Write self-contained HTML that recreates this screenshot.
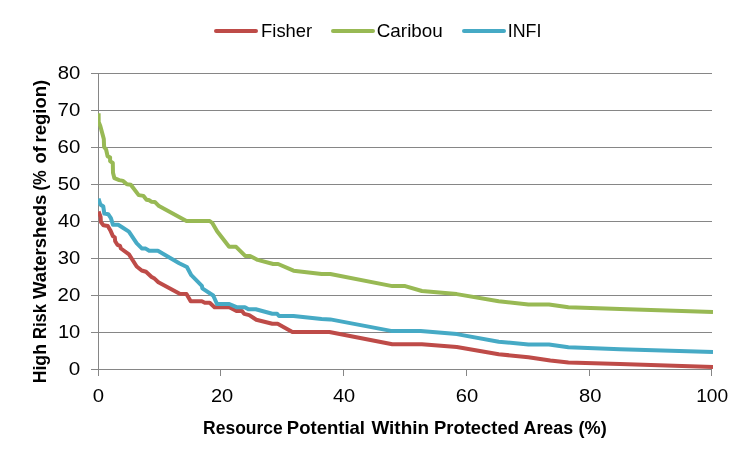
<!DOCTYPE html>
<html><head><meta charset="utf-8"><title>Chart</title>
<style>
html,body{margin:0;padding:0;background:#fff;}
svg{display:block;font-family:"Liberation Sans",sans-serif;}
</style></head><body>
<svg width="751" height="465" viewBox="0 0 751 465">
<rect width="751" height="465" fill="#fff"/>
<g stroke="#868686" stroke-width="1" shape-rendering="crispEdges">
<line x1="91.0" y1="369.5" x2="712.0" y2="369.5"/>
<line x1="91.0" y1="332.5" x2="712.0" y2="332.5"/>
<line x1="91.0" y1="295.5" x2="712.0" y2="295.5"/>
<line x1="91.0" y1="258.5" x2="712.0" y2="258.5"/>
<line x1="91.0" y1="221.5" x2="712.0" y2="221.5"/>
<line x1="91.0" y1="184.5" x2="712.0" y2="184.5"/>
<line x1="91.0" y1="147.5" x2="712.0" y2="147.5"/>
<line x1="91.0" y1="110.5" x2="712.0" y2="110.5"/>
<line x1="91.0" y1="73.5" x2="712.0" y2="73.5"/>
<line x1="98.5" y1="73.0" x2="98.5" y2="376.0"/>
<line x1="220.5" y1="369.5" x2="220.5" y2="376.0"/>
<line x1="343.5" y1="369.5" x2="343.5" y2="376.0"/>
<line x1="466.5" y1="369.5" x2="466.5" y2="376.0"/>
<line x1="589.5" y1="369.5" x2="589.5" y2="376.0"/>
<line x1="711.5" y1="369.5" x2="711.5" y2="376.0"/>
</g>
<defs><clipPath id="plot"><rect x="98" y="60" width="615" height="316"/></clipPath></defs>
<g fill="none" stroke-width="4" stroke-linejoin="round" stroke-linecap="round">
<g clip-path="url(#plot)" stroke-linecap="butt">
<path stroke="#BE4B48" d="M98.6 211.5 L100.6 217.0 L100.9 222.0 L103.4 225.3 L107.8 225.9 L110.4 230.4 L112.9 236.1 L114.8 237.4 L115.2 241.3 L117.4 244.8 L120.0 245.8 L120.9 248.5 L129.0 254.4 L136.7 266.5 L141.7 270.5 L146.0 271.7 L151.6 277.0 L154.5 278.6 L158.4 282.3 L179.7 293.7 L186.5 293.9 L190.7 301.3 L201.9 301.3 L204.8 302.8 L209.7 302.8 L214.5 307.2 L229.3 307.2 L236.5 311.0 L242.0 311.0 L244.2 313.9 L249.2 315.1 L256.3 319.7 L272.3 323.7 L277.6 323.7 L292.4 332.0 L329.4 332.0 L392.3 344.2 L421.9 344.2 L456.8 347.0 L498.7 354.2 L528.4 357.3 L550.3 360.6 L568.4 362.5 L620.0 364.1 L713.0 367.1"/>
<path stroke="#98B954" d="M98.6 113.2 L98.7 122.0 L100.3 126.0 L102.6 134.5 L103.8 139.0 L104.1 147.0 L106.1 149.5 L107.6 156.3 L110.1 157.3 L110.1 161.1 L112.8 163.0 L113.0 172.7 L114.4 178.2 L119.2 180.1 L123.1 180.9 L126.9 184.3 L130.8 184.7 L138.7 195.1 L143.5 195.9 L146.5 199.7 L149.4 200.3 L151.3 201.7 L154.8 201.9 L159.0 206.1 L182.3 218.7 L186.5 221.0 L209.7 221.0 L212.3 223.0 L217.1 231.3 L229.1 246.8 L236.1 246.8 L245.2 255.9 L250.0 255.9 L257.7 259.9 L273.2 264.0 L278.1 264.0 L293.5 270.7 L321.6 274.0 L330.3 274.0 L392.3 286.1 L405.2 286.1 L421.9 291.0 L456.8 294.1 L498.7 301.3 L528.4 304.4 L549.0 304.4 L568.4 307.2 L620.0 309.0 L713.0 312.1"/>
<path stroke="#46AAC5" d="M98.5 198.7 L100.4 204.5 L103.3 206.5 L104.3 213.6 L108.2 214.2 L110.9 218.1 L113.0 224.8 L118.2 224.8 L122.1 227.2 L128.9 231.6 L136.6 243.2 L141.8 248.4 L145.7 248.6 L149.2 250.8 L157.9 250.8 L179.2 263.2 L186.9 267.0 L191.3 275.2 L201.9 285.8 L202.3 288.3 L213.2 295.5 L217.0 304.0 L229.3 304.0 L236.5 307.2 L244.9 307.2 L248.4 309.3 L255.8 309.3 L272.3 313.7 L277.1 313.7 L279.0 316.0 L293.5 316.0 L321.6 318.9 L330.3 319.4 L391.0 330.9 L420.6 330.9 L456.8 334.1 L498.7 341.8 L528.4 344.4 L549.0 344.4 L568.4 347.2 L620.0 349.3 L713.0 351.9"/>
</g>
<path stroke="#BE4B48" stroke-width="4.0" d="M216.0 31.0 L256.0 31.0"/>
<path stroke="#98B954" stroke-width="4.0" d="M333.0 31.0 L373.0 31.0"/>
<path stroke="#46AAC5" stroke-width="4.0" d="M464.0 31.0 L504.0 31.0"/>
</g>
<g fill="#000">
<text transform="translate(261.11,36.70) scale(1.0159,1.0000)" font-size="18.10" font-weight="normal">Fisher</text>
<text transform="translate(376.76,36.70) scale(1.0422,1.0000)" font-size="18.10" font-weight="normal">Caribou</text>
<text transform="translate(507.68,36.70) scale(0.9864,1.0000)" font-size="18.10" font-weight="normal">INFI</text>
<text transform="translate(68.82,374.80) scale(1.1615,1.0000)" font-size="17.80" font-weight="normal">0</text>
<text transform="translate(57.89,337.80) scale(1.1320,1.0000)" font-size="17.80" font-weight="normal">10</text>
<text transform="translate(57.58,300.80) scale(1.1483,1.0000)" font-size="17.80" font-weight="normal">20</text>
<text transform="translate(57.84,263.80) scale(1.1344,1.0000)" font-size="17.80" font-weight="normal">30</text>
<text transform="translate(58.10,226.80) scale(1.1209,1.0000)" font-size="17.80" font-weight="normal">40</text>
<text transform="translate(57.71,189.80) scale(1.1413,1.0000)" font-size="17.80" font-weight="normal">50</text>
<text transform="translate(57.58,152.80) scale(1.1483,1.0000)" font-size="17.80" font-weight="normal">60</text>
<text transform="translate(57.58,115.80) scale(1.1483,1.0000)" font-size="17.80" font-weight="normal">70</text>
<text transform="translate(57.71,78.80) scale(1.1413,1.0000)" font-size="17.80" font-weight="normal">80</text>
<text transform="translate(92.84,401.80) scale(1.1440,1.0000)" font-size="17.80" font-weight="normal">0</text>
<text transform="translate(210.90,401.80) scale(1.1291,1.0000)" font-size="17.80" font-weight="normal">20</text>
<text transform="translate(333.00,401.80) scale(1.1236,1.0000)" font-size="17.80" font-weight="normal">40</text>
<text transform="translate(455.79,401.80) scale(1.1346,1.0000)" font-size="17.80" font-weight="normal">60</text>
<text transform="translate(578.92,401.80) scale(1.1331,1.0000)" font-size="17.80" font-weight="normal">80</text>
<text transform="translate(696.16,401.80) scale(1.0794,1.0000)" font-size="17.80" font-weight="normal">100</text>
<text transform="translate(203.10,433.70) scale(0.9821,1.0000)" font-size="17.80" font-weight="bold">Resource</text>
<text transform="translate(286.83,433.70) scale(1.0407,1.0000)" font-size="17.80" font-weight="bold">Potential</text>
<text transform="translate(371.40,433.70) scale(1.0628,1.0000)" font-size="17.80" font-weight="bold">Within</text>
<text transform="translate(433.93,433.70) scale(1.0370,1.0000)" font-size="17.80" font-weight="bold">Protected</text>
<text transform="translate(523.55,433.70) scale(1.0004,1.0000)" font-size="17.80" font-weight="bold">Areas</text>
<text transform="translate(578.49,433.70) scale(1.0185,1.0000)" font-size="17.80" font-weight="bold">(%)</text>
<text transform="translate(45.80,383.32) rotate(-90) scale(0.9941,1.0000)" font-size="17.80" font-weight="bold">High</text>
<text transform="translate(45.80,339.04) rotate(-90) scale(0.9319,1.0000)" font-size="17.80" font-weight="bold">Risk</text>
<text transform="translate(45.80,298.90) rotate(-90) scale(1.0396,1.0000)" font-size="17.80" font-weight="bold">Watersheds</text>
<text transform="translate(45.80,190.43) rotate(-90) scale(0.9283,1.0000)" font-size="17.80" font-weight="bold">(%</text>
<text transform="translate(45.80,163.48) rotate(-90) scale(1.0229,1.0000)" font-size="17.80" font-weight="bold">of</text>
<text transform="translate(45.80,142.58) rotate(-90) scale(1.0432,1.0000)" font-size="17.80" font-weight="bold">region)</text>
</g>
</svg></body></html>
